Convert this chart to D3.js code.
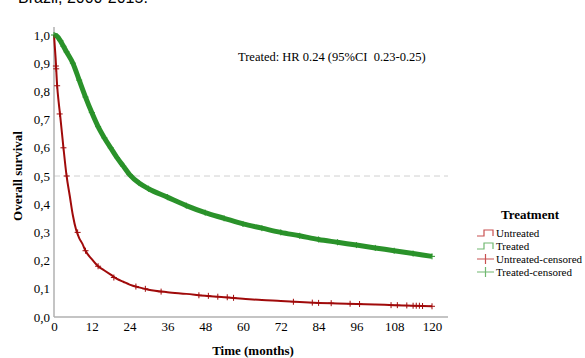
<!DOCTYPE html>
<html>
<head>
<meta charset="utf-8">
<script src="https://cdn.jsdelivr.net/npm/d3@7"></script>
<style>
  body { margin: 0; background: #fff; }
  svg { display: block; }
  text { font-family: "Liberation Serif", "DejaVu Serif", serif; fill: #000; }
</style>
</head>
<body>
<script>
// Data
const treatedTime = [0, 1, 2, 3, 4, 6, 8, 10, 12, 14, 16, 18, 20, 22, 24, 27, 30, 36, 42, 48, 54, 60, 66, 72, 78, 84, 90, 96, 102, 108, 114, 120];
const treatedSurv = [1.0, 0.995, 0.98, 0.96, 0.94, 0.90, 0.84, 0.78, 0.725, 0.675, 0.635, 0.60, 0.565, 0.535, 0.505, 0.475, 0.455, 0.425, 0.395, 0.37, 0.35, 0.33, 0.315, 0.30, 0.288, 0.275, 0.265, 0.255, 0.245, 0.235, 0.225, 0.215];
const untreatedTime = [0, 0.5, 1, 1.5, 2, 3, 4, 5, 6, 7, 8, 9, 10, 12, 14, 16, 18, 20, 22, 24, 27, 30, 36, 42, 48, 54, 60, 66, 72, 78, 84, 90, 96, 102, 108, 114, 120];
const untreatedSurv = [1.0, 0.92, 0.82, 0.76, 0.71, 0.60, 0.50, 0.43, 0.36, 0.31, 0.28, 0.26, 0.235, 0.205, 0.18, 0.165, 0.15, 0.135, 0.125, 0.115, 0.105, 0.097, 0.088, 0.082, 0.075, 0.07, 0.065, 0.06, 0.057, 0.053, 0.05, 0.048, 0.046, 0.044, 0.042, 0.04, 0.038];
// censored observations [time, survival]
const untreatedCensored = [[0.6, 0.89], [0.7, 0.88], [1.0, 0.82], [1.8, 0.72], [3.0, 0.60], [4.0, 0.50], [7.5, 0.30], [10, 0.235], [14, 0.18], [19, 0.14], [26, 0.108], [29, 0.1], [34, 0.09], [46, 0.077], [49, 0.075], [52, 0.072], [55, 0.07], [57, 0.068], [76, 0.054], [82, 0.051], [84, 0.05], [88, 0.049], [94, 0.047], [97, 0.046], [107, 0.042], [109, 0.042], [112, 0.041], [114, 0.04], [115, 0.04], [116, 0.04], [117, 0.039], [120, 0.038]];
const yTicks = [0, 0.1, 0.2, 0.3, 0.4, 0.5, 0.6, 0.7, 0.8, 0.9, 1.0];
const xTicks = [0, 12, 24, 36, 48, 60, 72, 84, 96, 108, 120];
const legendLabels = ['Untreated', 'Treated', 'Untreated-censored', 'Treated-censored'];

const width = 585, height = 358;
const red = '#a00a0a', green = '#2a922a';
const redLight = '#c85050', greenLight = '#70b870';

const svg = d3.select('body').append('svg')
  .attr('width', width).attr('height', height);

// Cut-off title at the top (only its lower edge shows in the reference)
svg.append('text')
  .attr('x', 18).attr('y', 3)
  .style('font-family', '"Liberation Sans", Arial, sans-serif')
  .style('font-size', '16px')
  .text('Brazil, 2000-2015.');

// Scales
const x = d3.scaleLinear().domain([0, 120]).range([54, 432]);
const y = d3.scaleLinear().domain([0, 1]).range([317, 35]);

// Reference line at 0.5
svg.append('line')
  .attr('x1', x(0)).attr('x2', 448)
  .attr('y1', y(0.5)).attr('y2', y(0.5))
  .attr('stroke', '#d0d0d0').attr('stroke-dasharray', '6,4');

// Axes
const yAxis = svg.append('g')
  .attr('transform', `translate(${x(0)},0)`)
  .call(d3.axisLeft(y).tickValues(yTicks).tickSize(0).tickPadding(4)
    .tickFormat(d => d3.format('.1f')(d).replace('.', ',')));
yAxis.select('.domain').remove();
yAxis.selectAll('text').style('font-size', '13px');

const xAxis = svg.append('g')
  .attr('transform', `translate(0,${y(0)})`)
  .call(d3.axisBottom(x).tickValues(xTicks).tickSize(0).tickPadding(5));
xAxis.select('.domain').remove();
xAxis.selectAll('text').style('font-size', '13px');

svg.append('line').attr('x1', x(0)).attr('x2', x(0)).attr('y1', 27).attr('y2', y(0))
  .attr('stroke', '#b0b0b0').attr('stroke-width', 1.5);
svg.append('line').attr('x1', x(0)).attr('x2', 448).attr('y1', y(0)).attr('y2', y(0))
  .attr('stroke', '#b0b0b0').attr('stroke-width', 1.5);

// Survival curves
const line = d3.line()
  .x(d => x(d[0])).y(d => y(d[1]))
  .curve(d3.curveMonotoneX);

const treated = treatedTime.map((t, i) => [t, treatedSurv[i]]);
const untreated = untreatedTime.map((t, i) => [t, untreatedSurv[i]]);

svg.append('path').datum(treated)
  .attr('d', line).attr('fill', 'none')
  .attr('stroke', green).attr('stroke-width', 5);

svg.append('path').datum(untreated)
  .attr('d', line).attr('fill', 'none')
  .attr('stroke', red).attr('stroke-width', 2);

// Censor marks
const cross = (g, pts, color) => {
  g.selectAll('path.c').data(pts).join('path')
    .attr('d', d => `M${x(d[0]) - 3},${y(d[1])}h6M${x(d[0])},${y(d[1]) - 3}v6`)
    .attr('stroke', color).attr('stroke-width', 1).attr('fill', 'none');
};
cross(svg.append('g'), untreatedCensored, red);
cross(svg.append('g'), treated, green);

// Axis titles
svg.append('text')
  .attr('transform', `translate(22,${y(0.5)}) rotate(-90)`)
  .attr('text-anchor', 'middle')
  .style('font-size', '13px').style('font-weight', 'bold')
  .text('Overall survival');

svg.append('text')
  .attr('x', 253).attr('y', 355)
  .attr('text-anchor', 'middle')
  .style('font-size', '13px').style('font-weight', 'bold')
  .text('Time (months)');

// HR annotation
svg.append('text')
  .attr('x', 238).attr('y', 61)
  .style('font-size', '12.5px')
  .style('white-space', 'pre')
  .text('Treated: HR 0.24 (95%CI  0.23-0.25)');

// Legend
const legend = svg.append('g');
legend.append('text')
  .attr('x', 530).attr('y', 219)
  .attr('text-anchor', 'middle')
  .style('font-size', '13px').style('font-weight', 'bold')
  .text('Treatment');

const legendColors = [redLight, greenLight, redLight, greenLight];
legendLabels.forEach((label, i) => {
  const ly = 233 + i * 13;
  const g = legend.append('g').attr('transform', `translate(477,${ly})`);
  if (i < 2) {
    g.append('path')
      .attr('d', 'M0,3H7V-3H16V3')
      .attr('fill', 'none').attr('stroke', legendColors[i]).attr('stroke-width', 1.2);
  } else {
    g.append('path')
      .attr('d', 'M0,0H17M8.5,-5V5')
      .attr('fill', 'none').attr('stroke', legendColors[i]).attr('stroke-width', 1.2);
  }
  g.append('text')
    .attr('x', 19).attr('y', 4)
    .style('font-size', '11px')
    .text(label);
});
</script>
</body>
</html>
